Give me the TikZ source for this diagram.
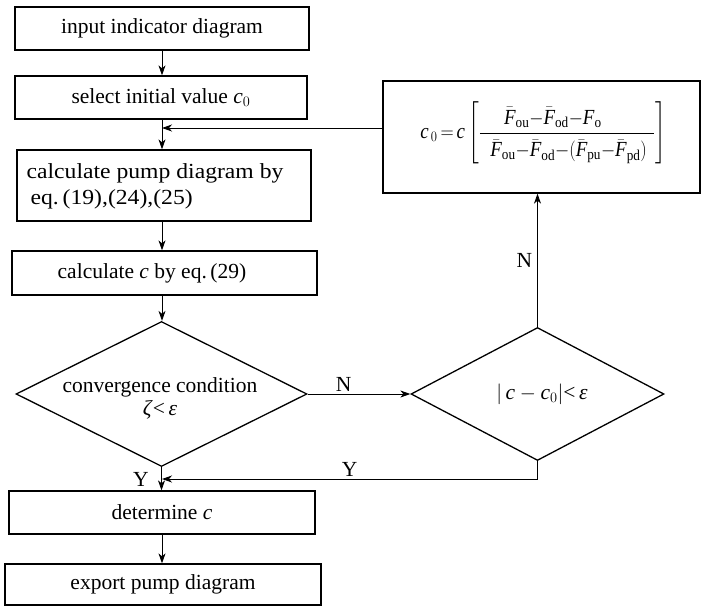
\documentclass[tikz,border=0pt]{standalone}
\usepackage{amsmath}
\usepackage{fontspec}
\setmainfont{Liberation Serif}
\usetikzlibrary{shapes.geometric,arrows.meta}
\newcommand\Fb{\bar{\textit{F}}}
\begin{document}
\begin{tikzpicture}[x=1pt,y=-1pt,
  font=\fontsize{21.5}{25}\selectfont,
  box/.style={draw,line width=1.3pt,inner sep=0pt,anchor=center},
  dia/.style={draw,shape=diamond,line width=1.3pt,inner sep=0pt,anchor=center},
  lab/.style={inner sep=2pt},
  arr/.style={-{Stealth[length=10pt,width=7pt,inset=3pt]},line width=0.9pt}]
\useasboundingbox (0,0) rectangle (702,607);
% boxes
\node[box,minimum width=294pt,minimum height=43pt] (b1) at (162,28.5) {input indicator diagram};
\node[box,minimum width=292pt,minimum height=43pt] (b2) at (161,97.5) {select initial value \textit{c}$_{0}$};
\node[box,minimum width=294pt,minimum height=71pt] (b3) at (164,185.5) {};
\node[lab,align=left] (t3) at (155,186) {\scalebox{1.1}[1]{calculate pump diagram by}\\[1pt]\scalebox{1.1}[1]{\,eq.\,(19),(24),(25)}};
\node[box,minimum width=305pt,minimum height=44pt] (b4) at (164.5,273) {};
\node[lab] (t4) at (152,273) {calculate \textit{c} by eq.\,(29)};
\node[dia,minimum width=291pt,minimum height=145pt] (d1) at (161.5,394) {};
\node[lab,align=center] (t1) at (160,398) {convergence condition\\[-2pt]\textit{ζ}<\,\textit{ε}};
\node[dia,minimum width=253pt,minimum height=133pt] (d2) at (537.5,394) {};
\node[lab] (t2) at (542,394) {$|\,\textit{c} - \textit{c}_{0}|$<\,\textit{ε}};
\node[box,minimum width=317pt,minimum height=112pt] (r) at (541.5,137) {};
\node[lab] (f) at (543,134) {\scalebox{0.88}[1]{$\textit{c}_{\,0}\mskip3mu{=}\mskip3mu\textit{c}\left[\rule[-28pt]{0pt}{61pt}\dfrac{\hspace*{16pt}\Fb_{\textrm{ou}}{-}\Fb_{\textrm{od}}{-}\textit{F}_{\textrm{o}}\hspace*{48pt}}{\rule{0pt}{21pt}\hspace*{12pt}\Fb_{\textrm{ou}}{-}\Fb_{\textrm{od}}{-}(\Fb_{\textrm{pu}}{-}\Fb_{\textrm{pd}})\hspace*{8pt}}\right]$}};
\node[box,minimum width=306pt,minimum height=43pt] (b5) at (162,512.5) {determine \textit{c}};
\node[box,minimum width=316pt,minimum height=41pt] (b6) at (163,584.5) {export pump diagram};
% junctions
\coordinate (fb) at (162,128);
\coordinate (yj) at (162,479);
% connectors
\draw[arr] (b1.south -| fb) -- (b2.north -| fb);
\draw[arr] (b2.south -| fb) -- (b3.north -| fb);
\draw[arr] (r.west |- fb) -- (fb);
\draw[arr] (b3.south -| fb) -- (b4.north -| fb);
\draw[arr] (b4.south -| fb) -- (d1.north -| fb);
\draw[arr] (d1.east) -- node[lab,above,pos=0.35] (n1) {N} (d2.west);
\draw[arr] (d2.north) -- node[lab,left,xshift=-3pt] (n2) {N} (d2.north |- r.south);
\draw[arr] (d2.south) |- node[lab,above,pos=0.75] (y1) {Y} (yj);
\draw[arr] (d1.south) -- (b5.north -| d1.south);
\node[lab] (y2) at (141,479) {Y};
\draw[arr] (b5.south -| fb) -- (b6.north -| fb);
\end{tikzpicture}
\end{document}
